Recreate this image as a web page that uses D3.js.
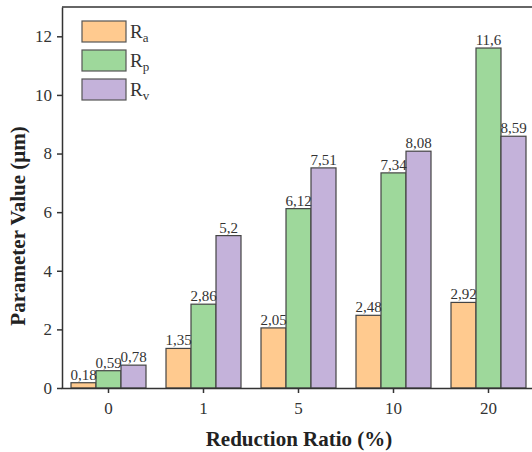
<!DOCTYPE html>
<html>
<head>
  <meta charset="UTF-8">
  <style>
    body { margin: 0; background: #fff; }
    svg text { font-family: "Liberation Serif", "Times New Roman", serif; }
    .axis path, .axis line { stroke: #333; stroke-width: 1.5px; }
    .axis text { font-size: 17px; fill: #333; font-family: "Liberation Serif", serif; }
    .bar { stroke: #444; stroke-width: 1.2px; }
    .val { font-size: 15px; fill: #333; text-anchor: middle; }
  </style>
</head>
<body>
<svg></svg>
<script src="https://d3js.org/d3.v7.min.js"></script>
<script>

// data
let ratios = ["0", "1", "5", "10", "20"];
let ra = [0.18, 1.35, 2.05, 2.48, 2.92];
let rp = [0.59, 2.86, 6.12, 7.34, 11.6];
let rv = [0.78, 5.2, 7.51, 8.08, 8.59];
let yTicks = [0, 2, 4, 6, 8, 10, 12];

let keys = ["a", "p", "v"];
let colors = ["#ffca8f", "#9ed89b", "#c4b2da"];
let series = [ra, rp, rv];

let width = 532, height = 452;
let svg = d3.select("svg").attr("width", width).attr("height", height);

let x = d3.scaleBand().domain(ratios).range([61, 536]);
let xSub = d3.scaleBand().domain(keys).range([10, 85]);
let y = d3.scaleLinear().domain([0, 13]).range([388, 7]);

// top frame line
svg.append("line")
    .attr("x1", 62).attr("x2", width)
    .attr("y1", 7).attr("y2", 7)
    .attr("stroke", "#333").attr("stroke-width", 1.5);

// bars
let groups = svg.selectAll("g.grp")
    .data(ratios)
    .enter().append("g")
    .attr("class", "grp")
    .attr("transform", d => "translate(" + x(d) + ",0)");

keys.forEach(function(k, j) {
    groups.append("rect")
        .attr("class", "bar")
        .attr("x", xSub(k))
        .attr("width", xSub.bandwidth())
        .attr("y", (d, i) => y(series[j][i]))
        .attr("height", (d, i) => y(0) - y(series[j][i]))
        .attr("fill", colors[j]);
});

// value labels
keys.forEach(function(k, j) {
    groups.append("text")
        .attr("class", "val")
        .attr("x", xSub(k) + xSub.bandwidth() / 2)
        .attr("y", (d, i) => y(series[j][i]) - 3)
        .text((d, i) => String(series[j][i]).replace(".", ","));
});

// axes
svg.append("g")
    .attr("class", "axis")
    .attr("transform", "translate(0," + y(0) + ")")
    .call(d3.axisBottom(x).tickSize(5).tickPadding(9).tickSizeOuter(0))
    .attr("font-family", null);

svg.append("g")
    .attr("class", "axis")
    .attr("transform", "translate(62,0)")
    .call(d3.axisLeft(y).tickValues(yTicks).tickSize(5).tickPadding(5).tickSizeOuter(0))
    .attr("font-family", null);

// axis titles
svg.append("text")
    .attr("x", 299).attr("y", 446)
    .attr("text-anchor", "middle")
    .attr("font-weight", "bold")
    .attr("font-size", 21)
    .attr("fill", "#222")
    .text("Reduction Ratio (%)");

svg.append("text")
    .attr("transform", "translate(25,226) rotate(-90)")
    .attr("text-anchor", "middle")
    .attr("font-weight", "bold")
    .attr("font-size", 21)
    .attr("fill", "#222")
    .text("Parameter Value (μm)");

// legend
let legend = svg.selectAll("g.legend")
    .data(keys)
    .enter().append("g")
    .attr("class", "legend")
    .attr("transform", (d, i) => "translate(82," + (21 + i * 29) + ")");

legend.append("rect")
    .attr("width", 44).attr("height", 21)
    .attr("fill", (d, i) => colors[i])
    .attr("stroke", "#555").attr("stroke-width", 1.2);

let lt = legend.append("text")
    .attr("x", 48).attr("y", 17)
    .attr("font-size", 19)
    .attr("fill", "#333");
lt.append("tspan").text("R");
lt.append("tspan").attr("dy", 4).attr("font-size", 13).text(d => d);

</script>
</body>
</html>
